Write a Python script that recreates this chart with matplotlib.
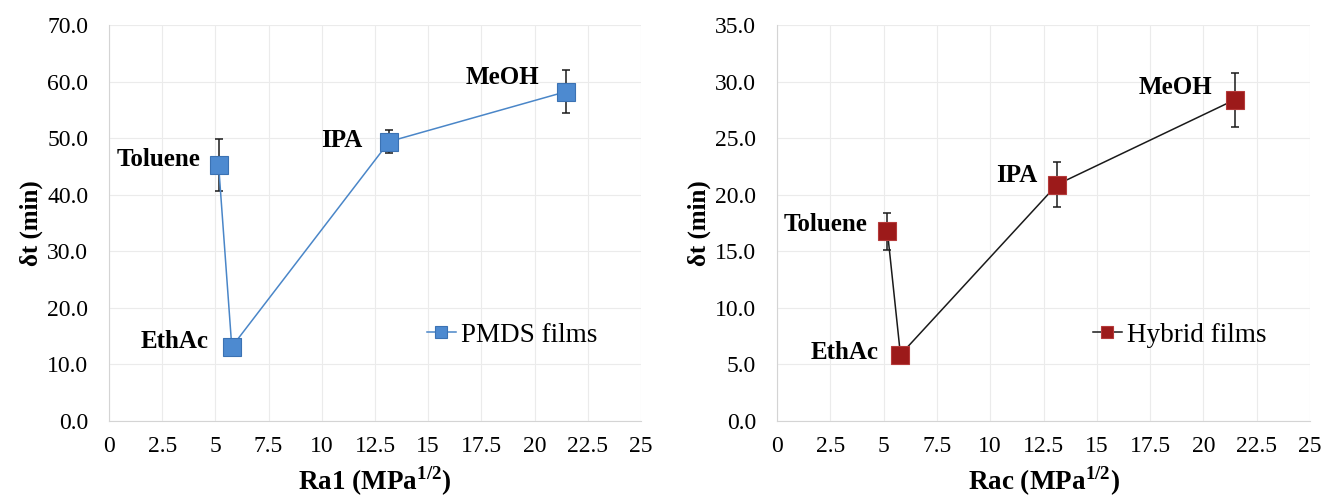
import matplotlib
matplotlib.use("Agg")
import matplotlib.pyplot as plt

plt.rcParams['font.family'] = ['Liberation Serif', 'DejaVu Serif']
plt.rcParams['mathtext.fontset'] = 'custom'
plt.rcParams['mathtext.rm'] = 'Liberation Serif'

solvents = ['Toluene', 'EthAc', 'IPA', 'MeOH']

# solubility parameter distance (x) and delay time (y)
ra1 = [5.15, 5.77, 13.17, 21.46]
dt_pdms = [45.3, 13.1, 49.4, 58.2]
err_pdms = [4.6, 0.0, 2.05, 3.8]

rac = [5.18, 5.79, 13.14, 21.48]
dt_hybrid = [16.75, 5.86, 20.9, 28.4]
err_hybrid = [1.6, 0.0, 2.0, 2.4]

xticks = [0, 2.5, 5, 7.5, 10, 12.5, 15, 17.5, 20, 22.5, 25]
xticklabels = ['0', '2.5', '5', '7.5', '10', '12.5', '15', '17.5', '20', '22.5', '25']

# label offsets in points (dx, dy)
offs_left = [(-13, 3.6), (-17, 3.6), (-19, 0.7), (-19, 10.6)]
offs_right = [(-14, 4.7), (-16, 1.5), (-14, 6.5), (-16, 8.6)]

fig = plt.figure(figsize=(13.25, 4.98), dpi=100)
ax1 = fig.add_axes([109 / 1325, 77 / 498, 532 / 1325, 396 / 498])
ax2 = fig.add_axes([777 / 1325, 77 / 498, 533 / 1325, 396 / 498])


def draw(ax, x, y, err, color, edge, linecolor, label, ymax, ystep, xlabel, offs, legend_xy):
    ax.errorbar(x, y, yerr=err, fmt='none', ecolor='#1a1a1a', elinewidth=1.1,
                capsize=3, capthick=1.1, zorder=2)
    ax.plot(x, y, color=linecolor, lw=1.1, marker='s', ms=13.5,
            mfc=color, mec=edge, mew=0.8, label=label, zorder=3)
    for name, xi, yi, (dx, dy) in zip(solvents, x, y, offs):
        ax.annotate(name, (xi, yi), xytext=(dx, dy), textcoords='offset points',
                    ha='right', va='center', fontsize=18, fontweight='bold')
    ax.set_xlim(0, 25)
    ax.set_ylim(0, ymax)
    ax.set_xticks(xticks)
    ax.set_xticklabels(xticklabels)
    yt = [i * ystep for i in range(int(round(ymax / ystep)) + 1)]
    ax.set_yticks(yt)
    ax.set_yticklabels(['%.1f' % v for v in yt])
    ax.tick_params(labelsize=17, length=0)
    ax.tick_params(axis='x', pad=11)
    ax.tick_params(axis='y', pad=15)
    ax.grid(True, color='#ebebeb', lw=0.8)
    ax.set_axisbelow(True)
    for s in ['top', 'right']:
        ax.spines[s].set_visible(False)
    for s in ['left', 'bottom']:
        ax.spines[s].set_color('#d4d4d4')
    ax.set_xlabel(xlabel, fontsize=19.5, fontweight='bold', labelpad=5)
    ax.set_ylabel('δt (min)', fontsize=18, fontweight='bold', labelpad=3)
    ax.legend(loc='center left', bbox_to_anchor=legend_xy, frameon=False,
              fontsize=19.5, handlelength=1.05, handletextpad=0.2, borderpad=0,
              borderaxespad=0, markerscale=0.66)


draw(ax1, ra1, dt_pdms, err_pdms, '#4d8ad0', '#3b72b3', '#4a86c8', 'PMDS films',
     70, 10, r'Ra1 (MPa$^{\mathregular{1/2}}$)', offs_left, (0.598, 0.217))
draw(ax2, rac, dt_hybrid, err_hybrid, '#9c1a1a', '#b53a3a', '#1a1a1a', 'Hybrid films',
     35, 5, r'Rac (MPa$^{\mathregular{1/2}}$)', offs_right, (0.593, 0.217))

fig.savefig('out.png', dpi=100)
